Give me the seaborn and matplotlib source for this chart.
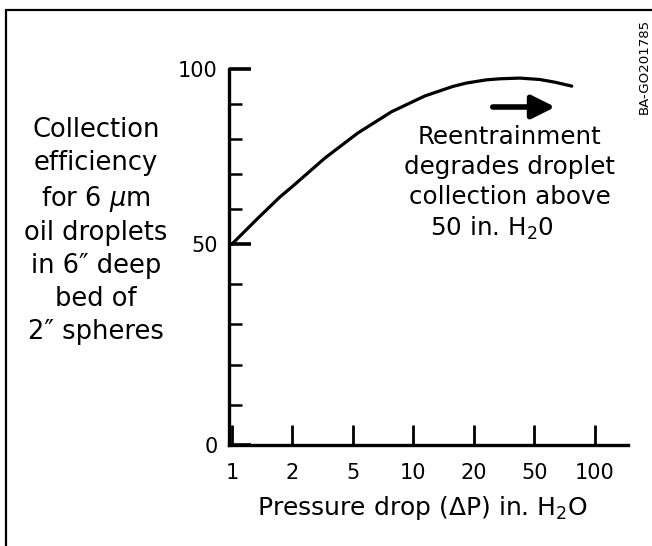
import numpy as np
import pandas as pd
import matplotlib
matplotlib.use("Agg")
import matplotlib.pyplot as plt
from matplotlib.lines import Line2D
import seaborn as sns

# ---- data ----
x_tick_labels = ["1", "2", "5", "10", "20", "50", "100"]
# curve position along the (equally spaced) pressure-drop tick sequence
curve_pos = [0.0, 0.43, 0.79, 0.99, 1.54, 2.08, 2.64, 3.19, 3.65, 3.88, 4.21, 4.43,
             4.76, 5.09, 5.35, 5.62]
curve_eff = [50.0, 57.4, 63.4, 66.3, 74.6, 81.7, 87.8, 92.3, 95.0, 96.0, 96.9, 97.2,
             97.4, 97.0, 96.2, 95.1]
y_major = [0, 50, 100]
y_minor = [10, 20, 30, 40, 60, 70, 80, 90]

df = pd.DataFrame({"pos": curve_pos, "eff": curve_eff})

sns.set_style("ticks")
plt.rcParams["font.family"] = ["DejaVu Sans"]
plt.rcParams["mathtext.default"] = "regular"
plt.rcParams["text.color"] = "black"
plt.rcParams["axes.labelcolor"] = "black"

W, H = 652, 546
fig = plt.figure(figsize=(W / 100, H / 100), dpi=100)

def fx(px):
    return px / W

def fy(py):
    return 1 - py / H

ax_l, ax_r, ax_b, ax_t = 229, 628, 445, 69
ax = fig.add_axes([fx(ax_l), fy(ax_b), (ax_r - ax_l) / W, (ax_b - ax_t) / H])

sns.lineplot(data=df, x="pos", y="eff", ax=ax, color="black", linewidth=2.3)
for ln in ax.lines:
    ln.set_solid_joinstyle("round")
    ln.set_solid_capstyle("round")

# hand-drawn axis: 0-50 span is longer than 50-100 span
fwd = lambda v: np.interp(v, [0, 50, 100], [0, 201, 376])
inv = lambda v: np.interp(v, [0, 201, 376], [0, 50, 100])
ax.set_yscale("function", functions=(fwd, inv))
ax.set_ylim(0, 100)
ax.set_xlim(-0.05, 6.55)

for s in ["top", "right"]:
    ax.spines[s].set_visible(False)
for s in ["left", "bottom"]:
    ax.spines[s].set_linewidth(2.4)
    ax.spines[s].set_color("black")

ax.set_xticks(range(len(x_tick_labels)))
ax.set_xticklabels(x_tick_labels)
ax.set_yticks(y_major)
ax.set_yticklabels([str(v) for v in y_major])
ax.set_yticks(y_minor, minor=True)
ax.tick_params(axis="x", direction="in", length=14.5, width=2.0, pad=13,
               labelsize=15, colors="black")
ax.tick_params(axis="y", which="major", direction="in", length=16, width=2.6,
               pad=8, labelsize=15, colors="black")
ax.tick_params(axis="y", which="minor", direction="in", length=9, width=1.8,
               colors="black")
ax.tick_params(axis="x", which="minor", bottom=False)

ax.set_xlabel(r"Pressure drop ($\Delta$P) in. H$_2$O", fontsize=18, color="black")
ax.xaxis.set_label_coords((422 - ax_l) / (ax_r - ax_l), (ax_b - 494) / (ax_b - ax_t))

ax.set_ylabel("Collection\nefficiency\nfor 6 $\\mathit{\\mu}$m\noil droplets\nin 6\u2033 deep\nbed of\n2\u2033 spheres",
              rotation=0, fontsize=18.5, ha="center", va="center",
              linespacing=1.34, color="black")
ax.yaxis.set_label_coords((96 - ax_l) / (ax_r - ax_l), (ax_b - 231) / (ax_b - ax_t))

# annotation
fig.text(fx(510), fy(167), "Reentrainment\ndegrades droplet\ncollection above",
         ha="center", va="center", fontsize=17.7, linespacing=1.3, color="black")
fig.text(fx(492), fy(228), "50 in. H$_2$0", ha="center", va="center", fontsize=17.7,
         color="black")
fig.patches.append(matplotlib.patches.FancyArrowPatch(
    (fx(490), fy(107)), (fx(558), fy(107)), transform=fig.transFigure,
    arrowstyle="-|>,head_length=1.0,head_width=0.5", mutation_scale=14,
    linewidth=4, color="black"))

fig.text(fx(644), fy(66), "BA-GO201785", rotation=90, ha="center", va="center",
         fontsize=9.6, color="black")

# frame lines
fig.add_artist(Line2D([fx(5.5), 1.0], [fy(10), fy(10)], transform=fig.transFigure,
                      color="black", linewidth=1.6))
fig.add_artist(Line2D([fx(5.5), fx(5.5)], [fy(10), 0.0], transform=fig.transFigure,
                      color="black", linewidth=1.6))

fig.savefig("out.png", dpi=100)
